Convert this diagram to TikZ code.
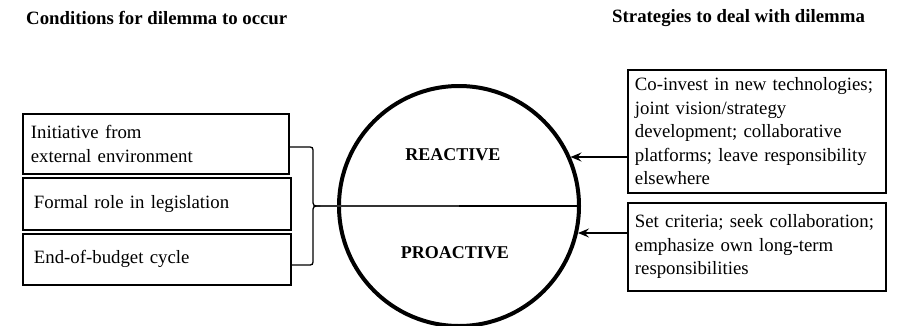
\documentclass[tikz,border=0pt]{standalone}
\usepackage{fontspec}
\setmainfont{Liberation Serif}
\usetikzlibrary{arrows.meta}
\begin{document}
\begin{tikzpicture}[x=1pt,y=-1pt,
  heading/.style={font=\fontsize{18.8}{22}\selectfont\bfseries, inner sep=0pt},
  cbox/.style={draw, line width=1.8pt, anchor=north west, inner xsep=8pt, inner ysep=0pt,
    align=left, font=\fontsize{18.8}{23.5}\selectfont},
  state/.style={font=\fontsize{18}{20}\selectfont\bfseries, inner sep=0pt},
  feed/.style={line width=1.3pt, -{Stealth[length=11pt,width=9pt,inset=4pt]}},
  brace/.style={line width=1.3pt}]
\useasboundingbox (0,0) rectangle (898,325);

% headings
\node[heading, anchor=west] (hl) at (26,18) {Conditions for dilemma to occur};
\node[heading, anchor=west] (hr) at (612,18) {Strategies to deal with dilemma};

% conditions
\node[cbox, minimum width=266pt, minimum height=60pt, text width=250pt] (c1) at (22,113)
  {Initiative from\\external environment};
\node[cbox, minimum width=266pt, minimum height=52pt, text width=246pt, inner xsep=11pt] (c2) at (22,177)
  {Formal role in legislation};
\node[cbox, minimum width=266pt, minimum height=51pt, text width=246pt, inner xsep=11pt] (c3) at (22,233)
  {End-of-budget cycle};

% strategies
\node[cbox, minimum width=258pt, minimum height=123pt, text width=244pt, inner xsep=7pt] (s1) at (627,69)
  {Co-invest in new technologies;\\joint vision/strategy\\development; collaborative\\platforms; leave responsibility\\elsewhere};
\node[cbox, minimum width=258pt, minimum height=88pt, text width=244pt, inner xsep=7pt] (s2) at (627,202)
  {Set criteria; seek collaboration;\\emphasize own long-term\\responsibilities};

% the dilemma circle
\node[draw, circle, line width=4pt, minimum size=240pt, inner sep=0pt] (dc) at (459,206) {};
\coordinate (tip) at (320,206);
\draw[line width=1.3pt, black!80] (tip) -- (dc.center);
\draw[line width=1.8pt] (dc.center) -- (dc.east);
\node[state] (re) at (453,155) {REACTIVE};
\node[state] (pro) at (455,253) {PROACTIVE};

% brace gathering the conditions
\draw[brace] (c1.east |- 0,147) -- (307,147) .. controls (313,147) .. (313,153)
  -- (313,199) .. controls (313,206) .. (tip);
\draw[brace] (c3.east |- 0,265) -- (307,265) .. controls (313,265) .. (313,259)
  -- (313,213) .. controls (313,206) .. (tip);

% strategies feed the circle
\draw[feed] (s1.west |- 0,157) -- (570.5,157);
\draw[feed] (s2.west |- 0,233) -- (578,233);
\end{tikzpicture}
\end{document}
